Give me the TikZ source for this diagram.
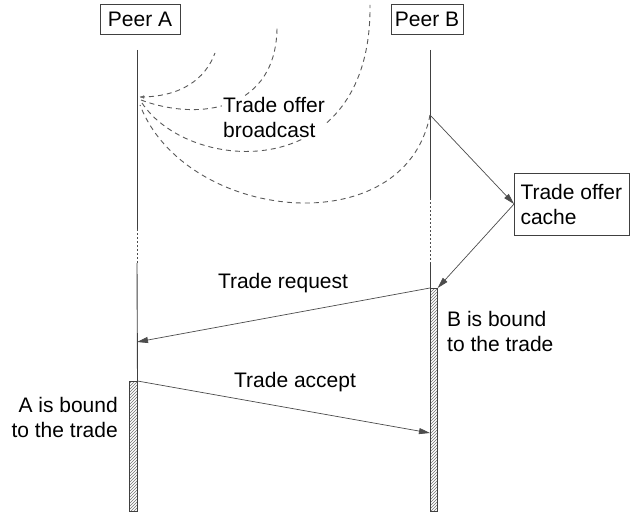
\documentclass[tikz,border=0pt]{standalone}
\usepackage{fontspec}
\setmainfont{Liberation Sans}
\usetikzlibrary{arrows.meta,patterns}
\begin{document}
\begin{tikzpicture}[x=1pt,y=-1pt,
  font=\fontsize{21}{25}\selectfont,
  box/.style={draw=black!75,line width=0.9pt,inner sep=0pt,minimum height=30pt},
  life/.style={draw=black!75,line width=0.9pt},
  dotline/.style={draw=black!70,line width=0.9pt,dash pattern=on 2pt off 2pt},
  msg/.style={draw=black!70,line width=0.7pt,-{Triangle[length=11pt,width=6pt]}},
  wave/.style={draw=black!65,line width=0.9pt,dash pattern=on 5pt off 4pt},
  bar/.style={draw=black!75,line width=0.7pt,inner sep=0pt,pattern=north east lines,pattern color=black!55},
  lbl/.style={inner sep=0pt,align=left}]
\useasboundingbox (0,0) rectangle (631,513);
\fill[white] (0,0) rectangle (631,513);

% peers
\node[box,minimum width=80pt] (pa) at (140,19) {Peer A};
\node[box,minimum width=72pt] (pb) at (427,19) {Peer B};

% lifeline points
\coordinate (a0) at (137,50);
\coordinate (a1) at (137,229);
\coordinate (a2) at (137,263);
\coordinate (areq) at (137,342);
\coordinate (b0) at (430,50);
\coordinate (b1) at (430,115);
\coordinate (b2) at (430,198);
\coordinate (b3) at (430,263);
\coordinate (bacc) at (430,433);

% activation bars
\node[bar,minimum width=8pt,minimum height=130pt,anchor=north east] (barA) at (137.5,381) {};
\node[bar,minimum width=7pt,minimum height=223pt,anchor=north west] (barB) at (430,288) {};

% lifelines
\draw[life] (a0) -- (a1);
\draw[dotline] (a1) -- (a2);
\draw[life] (a2) -- (barA.north east);
\draw[life] (b0) -- (b2);
\draw[dotline] (b2) -- (b3);
\draw[life] (b3) -- (barB.north west);

% broadcast waves
\coordinate (w1) at (140,97);
\coordinate (w2) at (141,100);
\coordinate (w3) at (142,103);
\coordinate (w4) at (140,105);
\draw[wave] (w1) .. controls (180,97) and (205,80) .. (215,53);
\draw[wave] (w2) .. controls (200,122) and (278,110) .. (277,25);
\draw[wave] (w3) .. controls (190,175) and (372,185) .. (370,5);
\draw[wave] (b1) .. controls (405,245) and (185,222) .. (w4);
\draw[black!60,-{Triangle[length=4pt,width=3pt]}] ([xshift=3pt]w1) -- (w1);

\node[lbl,inner sep=1pt,fill=white,anchor=north west] (bc) at (222,96) {Trade offer\\broadcast};

% cache
\node[draw=black!75,line width=0.9pt,inner xsep=6pt,inner ysep=0pt,minimum height=62pt,text width=103pt,align=flush left] (cache) at (572,204) {Trade offer\\cache};

% messages
\draw[msg] (b1) -- (cache.west);
\draw[msg] (cache.west) -- (barB.north east);
\draw[msg] (barB.north west) -- (areq);
\draw[msg] (barA.north east) -- (bacc);

% labels
\node[lbl,anchor=base] (lreq) at (283,288) {Trade request};
\node[lbl,anchor=base] (lacc) at (295,387) {Trade accept};
\node[lbl,anchor=north west] (lb) at (447,311.5) {B is bound\\to the trade};
\node[lbl,anchor=north east,align=right] (la) at (118,397.5) {A is bound\\to the trade};
\end{tikzpicture}
\end{document}
